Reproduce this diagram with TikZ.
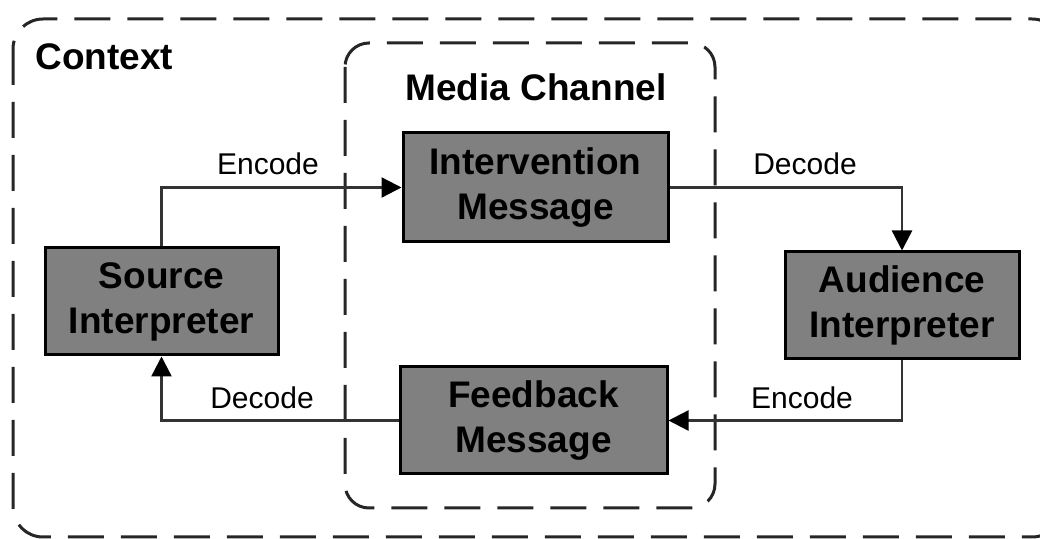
\documentclass[tikz,border=0pt]{standalone}
\usepackage{fontspec}
\setmainfont{Liberation Sans}
\usetikzlibrary{arrows.meta}
\begin{document}
\begin{tikzpicture}[x=0.5pt,y=-0.5pt,
    box/.style={draw=black,line width=1.5pt,fill=gray,align=center,inner sep=0pt,
      font=\bfseries\fontsize{18.5}{22.5}\selectfont},
    lbl/.style={inner sep=0pt,font=\fontsize{15}{18}\selectfont},
    title/.style={inner sep=0pt,font=\bfseries\fontsize{18.5}{22.5}\selectfont},
    zone/.style={draw=black!85,line width=1.5pt,dash pattern=on 18pt off 8.5pt},
    flow/.style={draw=black!80,line width=1.2pt,-{Triangle[length=10pt,width=10pt,color=black]}}]
    \useasboundingbox (0,0) rectangle (1040,539);
    \draw[zone,rounded corners=15pt] (13,19) rectangle (1062,537);
    \draw[zone,rounded corners=12pt] (345,43) rectangle (715,508);
    \node[title,anchor=west] (ctx) at (35,57) {Context};
    \node[title] (media) at (536,87) {Media Channel};
    \node[box,minimum width=116.5pt,minimum height=53.5pt] (src) at (161.5,301.5) {Source\\Interpreter};
    \node[box,minimum width=132.5pt,minimum height=54.5pt] (msg) at (535.5,187.5) {Intervention\\Message};
    \node[box,minimum width=117pt,minimum height=53.5pt] (aud) at (902,305.5) {Audience\\Interpreter};
    \node[box,minimum width=133.5pt,minimum height=53.5pt] (fb) at (533.5,420.5) {Feedback\\Message};
    \draw[flow] (src.north) |- (msg.west);
    \draw[flow] (msg.east) -| (aud.north);
    \draw[flow] (aud.south) |- (fb.east);
    \draw[flow] (fb.west) -| (src.south);
    \node[lbl] (enc1) at (268,164) {Encode};
    \node[lbl] (dec1) at (805,164) {Decode};
    \node[lbl] (enc2) at (802,398) {Encode};
    \node[lbl] (dec2) at (262,398) {Decode};
\end{tikzpicture}
\end{document}
